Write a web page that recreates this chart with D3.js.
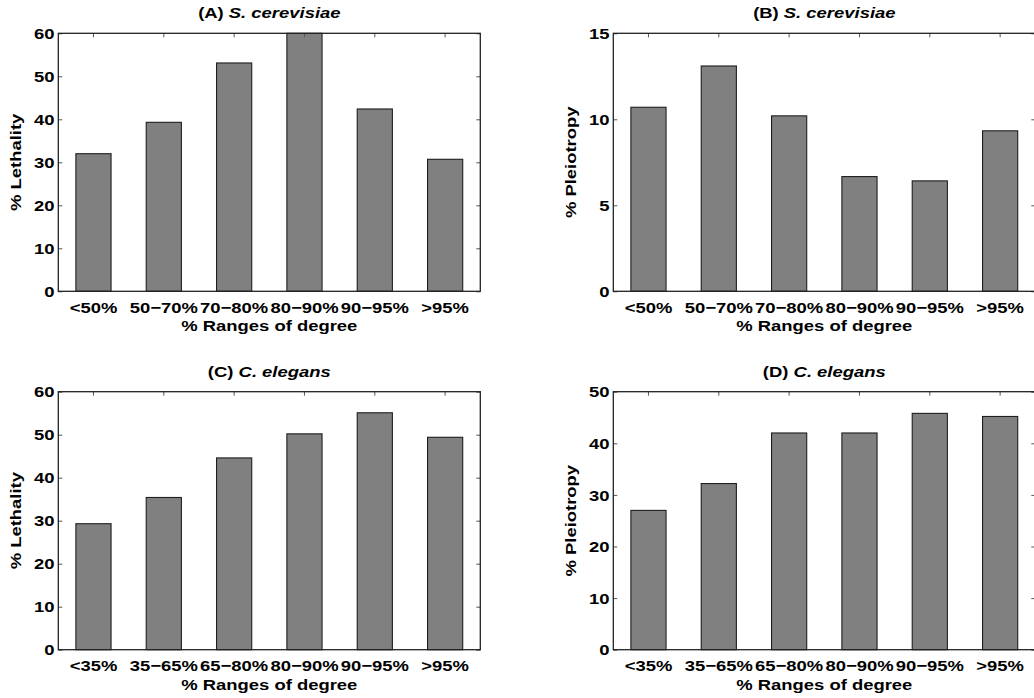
<!DOCTYPE html>
<html>
<head>
<meta charset="utf-8">
<script src="https://cdn.jsdelivr.net/npm/d3@7"></script>
<style>
  html, body { margin: 0; padding: 0; background: #fff; }
  svg { display: block; }
  text { font-family: "Liberation Sans", Arial, Helvetica, sans-serif; font-weight: bold; fill: #000; }
</style>
</head>
<body>
<svg id="fig" width="1034" height="698"></svg>
<script>
// Degree-range categories (percentile bins of node degree)
const catsYeast = ["<50%", "50\u221270%", "70\u221280%", "80\u221290%", "90\u221295%", ">95%"];
const catsWorm  = ["<35%", "35\u221265%", "65\u221280%", "80\u221290%", "90\u221295%", ">95%"];

// Percent values per degree range
const yeastLethality  = [32.0, 39.3, 53.1, 60.0, 42.4, 30.7];
const yeastPleiotropy = [10.7, 13.1, 10.2, 6.67, 6.42, 9.33];
const wormLethality   = [29.3, 35.4, 44.6, 50.2, 55.1, 49.4];
const wormPleiotropy  = [27.0, 32.2, 42.0, 42.0, 45.8, 45.2];

// Y tick values
const ticksLethality   = [0, 10, 20, 30, 40, 50, 60];
const ticksPleioYeast  = [0, 5, 10, 15];
const ticksPleioWorm   = [0, 10, 20, 30, 40, 50];

// Panel titles and axis labels
const titleTags    = ["(A) ", "(B) ", "(C) ", "(D) "];
const titleSpecies = ["S. cerevisiae", "S. cerevisiae", "C. elegans", "C. elegans"];
const yLabels      = ["% Lethality", "% Pleiotropy", "% Lethality", "% Pleiotropy"];
const xLabel       = "% Ranges of degree";

const svg = d3.select("#fig");

const FONT = 15.5;      // font size of all text
const SX = 1.19;        // horizontal widening of the glyphs
const PW = 422, PH = 258;
const TICK = 4;

function stretchedText(g, x, y, str, anchor, rotate) {
  const grp = g.append("g")
    .attr("transform", `translate(${x},${y})` + (rotate ? ` rotate(${rotate})` : "") + ` scale(${SX},1)`);
  return grp.append("text")
    .attr("text-anchor", anchor)
    .style("font-size", FONT + "px")
    .text(str);
}

function panel(i, left, top, cats, values, yTicks) {
  const g = svg.append("g").attr("transform", `translate(${left},${top})`);
  const yMax = yTicks[yTicks.length - 1];

  const x = d3.scaleBand().domain(cats).range([0, PW]).paddingInner(0.5).paddingOuter(0.25);
  const y = d3.scaleLinear().domain([0, yMax]).range([PH, 0]);

  // bottom ticks (mostly hidden behind the bars)
  g.append("g").selectAll("line").data(cats).join("line")
    .attr("x1", d => x(d) + x.bandwidth() / 2).attr("x2", d => x(d) + x.bandwidth() / 2)
    .attr("y1", PH).attr("y2", PH - TICK)
    .attr("stroke", "#555").attr("stroke-width", 1);

  // bars
  g.append("g").selectAll("rect").data(values).join("rect")
    .attr("x", (d, k) => x(cats[k]))
    .attr("y", d => y(d))
    .attr("width", x.bandwidth())
    .attr("height", d => PH - y(d))
    .attr("fill", "#808080")
    .attr("stroke", "#1e1e1e")
    .attr("stroke-width", 1.1);

  // top ticks at category centres
  g.append("g").selectAll("line").data(cats).join("line")
    .attr("x1", d => x(d) + x.bandwidth() / 2).attr("x2", d => x(d) + x.bandwidth() / 2)
    .attr("y1", 0).attr("y2", TICK)
    .attr("stroke", "#555").attr("stroke-width", 1);

  // left axis (ticks inward) with labels
  const axL = g.append("g").call(
    d3.axisLeft(y).tickValues(yTicks).tickSize(-TICK).tickPadding(3.2).tickFormat(d3.format("d"))
  );
  axL.select(".domain").remove();
  axL.selectAll(".tick line").attr("stroke", "#555").attr("stroke-width", 1);
  axL.selectAll(".tick text")
    .attr("transform", `scale(${SX},1)`)
    .attr("dy", "0.34em")
    .attr("fill", "#000")
    .style("font-size", FONT + "px")
    .style("font-family", "'Liberation Sans', Arial, Helvetica, sans-serif")
    .style("font-weight", "bold");

  // right axis ticks (inward, no labels)
  const axR = g.append("g").attr("transform", `translate(${PW},0)`).call(
    d3.axisRight(y).tickValues(yTicks).tickSize(-TICK).tickFormat("")
  );
  axR.select(".domain").remove();
  axR.selectAll(".tick line").attr("stroke", "#555").attr("stroke-width", 1);

  // box
  g.append("rect")
    .attr("x", 0).attr("y", 0).attr("width", PW).attr("height", PH)
    .attr("fill", "none").attr("stroke", "#222").attr("stroke-width", 1.3);

  // category labels
  cats.forEach(c => {
    stretchedText(g, x(c) + x.bandwidth() / 2, PH + 21.7, c, "middle");
  });

  // x label
  stretchedText(g, PW / 2, PH + 40, xLabel, "middle");

  // y label
  stretchedText(g, -37.8, PH / 2, yLabels[i], "middle", -90);

  // title: tag upright, species name in italics
  const t = stretchedText(g, PW / 2, -15.2, "", "middle");
  t.append("tspan").text(titleTags[i]);
  t.append("tspan").style("font-style", "italic").text(titleSpecies[i]);
}

panel(0, 58.3, 33.3, catsYeast, yeastLethality, ticksLethality);
panel(1, 613.3, 33.3, catsYeast, yeastPleiotropy, ticksPleioYeast);
panel(2, 58.3, 391.7, catsWorm, wormLethality, ticksLethality);
panel(3, 613.3, 391.7, catsWorm, wormPleiotropy, ticksPleioWorm);
</script>
</body>
</html>
